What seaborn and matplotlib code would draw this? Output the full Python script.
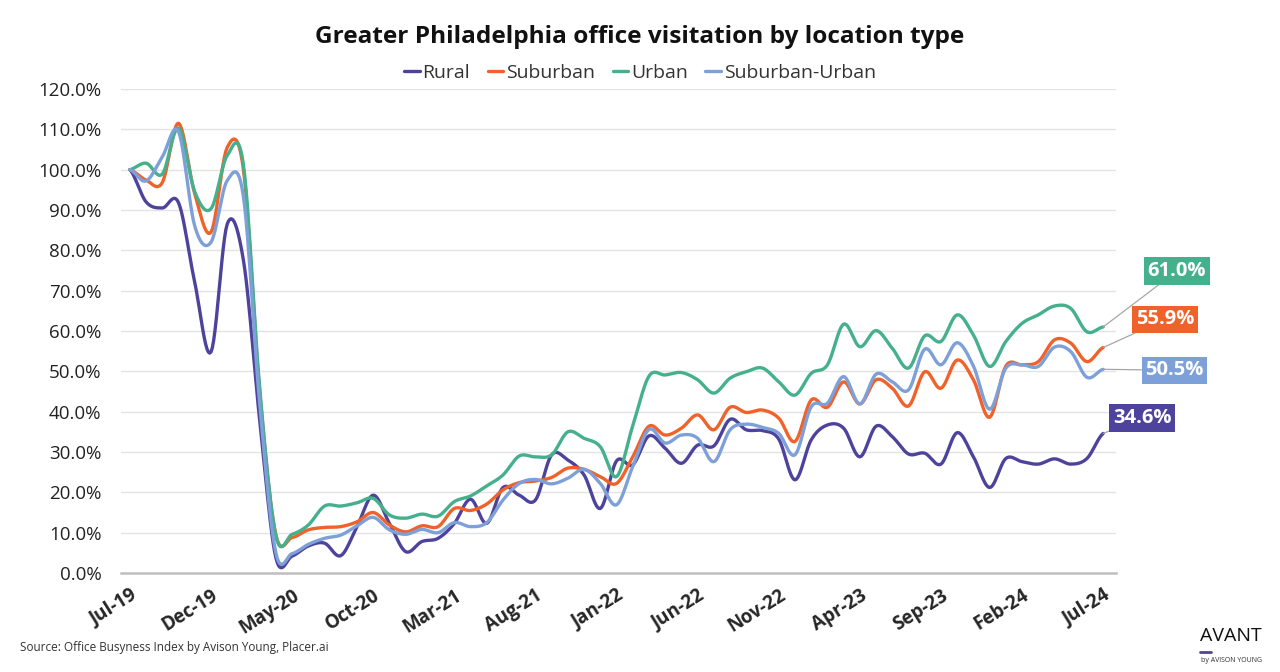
import numpy as np
import pandas as pd
import matplotlib
matplotlib.use("Agg")
import matplotlib.pyplot as plt
from matplotlib.lines import Line2D
import seaborn as sns

sns.set_style("white")
plt.rcParams['font.family'] = ['Open Sans', 'DejaVu Sans']

# monthly index, Jul-19 .. Jul-24 (Jul-19 = 100%)
months = pd.date_range("2019-07-01", periods=61, freq="MS").strftime("%b-%y").tolist()

rural = [100, 92, 90.5, 91.8, 72, 54.8, 86.5, 77.5, 38, 3.8,
         4.2, 6.7, 7.4, 4.3, 11.5, 19.3, 12.3, 5.3, 7.8, 8.6,
         12.3, 18.3, 12.3, 21.2, 19.3, 18.1, 29.3, 28, 24.3, 16,
         27.8, 26.8, 34, 30.9, 27.2, 31.7, 31.5, 38.1, 35.5, 35.3,
         33.2, 23.1, 33, 36.7, 35.9, 28.8, 36.4, 33.8, 29.5, 29.7,
         27, 34.8, 28.8, 21.2, 28.4, 27.6, 27, 28.3, 27, 28.4, 34.6]
suburban = [100, 97.4, 96.8, 111.5, 94, 84.5, 105.5, 100, 45, 9.5,
            8.8, 10.7, 11.3, 11.5, 12.7, 15, 11.9, 10.2, 11.7, 11.5,
            16, 15.5, 17.1, 20.6, 22.4, 22.8, 23.7, 26, 25.7, 23.9,
            22.2, 28.8, 36.4, 34.2, 35.9, 39.2, 35.5, 41.1, 39.8, 40.4,
            38.4, 32.6, 42.9, 41.1, 47.4, 41.9, 47.9, 45.8, 41.4, 49.9,
            45.8, 52.8, 47.9, 38.6, 51.3, 51.6, 52.4, 57.8, 57, 52.4, 55.9]
urban = [100, 101.6, 98.9, 110.3, 94.5, 90.3, 103.5, 101.2, 46, 9.2,
         9.6, 11.9, 16.6, 16.6, 17.4, 18.5, 14.4, 13.6, 14.6, 14.1,
         17.7, 19.1, 21.6, 24.3, 29, 28.8, 29.3, 35, 33.4, 31.3,
         23.9, 36.5, 48.8, 49.1, 49.7, 47.9, 44.6, 48.3, 49.9, 50.8,
         47.4, 44.1, 49.5, 51.6, 61.7, 56.1, 60.1, 55.7, 50.8, 58.8,
         57.4, 64, 59, 51.2, 57.4, 61.9, 64, 66.2, 65.6, 59.8, 61.0]
sub_urban = [100, 97.2, 103.2, 109.4, 86, 82, 97.3, 93.3, 42, 5.0,
             4.8, 7.1, 8.6, 9.4, 11.7, 13.8, 10.7, 9.6, 10.8, 10,
             12.5, 11.5, 12.5, 18.1, 22.2, 23.2, 22.1, 23.5, 25.7, 22.2,
             16.9, 26.4, 35.6, 32.2, 34.2, 33.4, 27.6, 35.5, 36.9, 36.1,
             34.6, 29.3, 41.2, 42.1, 48.7, 41.9, 49.3, 47.4, 45.4, 55.5,
             51.6, 57.1, 51.3, 40.6, 50.8, 51.6, 51.2, 56, 54.9, 48.5, 50.5]

series_names = ["Rural", "Suburban", "Urban", "Suburban-Urban"]
series_values = [rural, suburban, urban, sub_urban]
colors = {"Rural": "#4E439C", "Suburban": "#F0622A",
          "Urban": "#45B08C", "Suburban-Urban": "#7DA0D8"}


def smooth(y, steps=12):
    # Catmull-Rom curve through the monthly points (like Excel's smoothed line)
    y = np.asarray(y, dtype=float) / 100
    p = np.concatenate([[y[0]], y, [y[-1]]])
    xs, ys = [], []
    for i in range(len(y) - 1):
        p0, p1, p2, p3 = p[i], p[i + 1], p[i + 2], p[i + 3]
        t = np.linspace(0, 1, steps, endpoint=False)
        v = 0.5 * (2 * p1 + (-p0 + p2) * t + (2 * p0 - 5 * p1 + 4 * p2 - p3) * t**2
                   + (-p0 + 3 * p1 - 3 * p2 + p3) * t**3)
        xs.extend(i + t)
        ys.extend(v)
    xs.append(len(y) - 1)
    ys.append(y[-1])
    return xs, ys


frames = []
for name, vals in zip(series_names, series_values):
    sx, sy = smooth(vals)
    frames.append(pd.DataFrame({"x": sx, "value": sy, "series": name}))
df = pd.concat(frames, ignore_index=True)

fig = plt.figure(figsize=(12.8, 6.72), dpi=100)
ax = fig.add_axes([0.0945, 0.1473, 0.7775, 0.7203])

sns.lineplot(data=df, x="x", y="value", hue="series", hue_order=series_names,
             palette=colors, linewidth=2.4, estimator=None, sort=False,
             legend=False, ax=ax)

ax.set_xlim(-0.55, 60.8)
ax.set_ylim(0, 1.2)
ax.set_yticks(np.arange(0, 1.21, 0.1))
ax.set_yticklabels([f"{v * 100:.1f}%" for v in np.arange(0, 1.21, 0.1)], fontsize=13.5)
ax.yaxis.grid(True, color="#E3E3E3", linewidth=1)
ax.xaxis.grid(False)
ax.tick_params(axis="y", length=0, pad=14, colors="#222222")

ax.set_xticks(range(0, 61, 5))
ax.set_xticklabels([months[i] for i in range(0, 61, 5)], fontsize=13.5,
                   fontweight="bold", rotation=32, ha="right", rotation_mode="anchor")
ax.tick_params(axis="x", length=0, pad=9)
ax.set_xlabel("")
ax.set_ylabel("")

for side in ["top", "right", "left"]:
    ax.spines[side].set_visible(False)
ax.spines["bottom"].set_color("#BFBFBF")
ax.spines["bottom"].set_linewidth(1.8)

# end-of-line value labels
label_pos = {"Urban": (64.55, 0.749), "Suburban": (63.8, 0.6285),
             "Suburban-Urban": (64.4, 0.5027), "Rural": (62.4, 0.3844)}
for name, vals in zip(series_names, series_values):
    ax.annotate(f"{vals[-1]:.1f}%", xy=(60, vals[-1] / 100), xytext=label_pos[name],
                textcoords="data", ha="center", va="center", color="white",
                fontsize=14.5, fontweight="bold", annotation_clip=False,
                bbox=dict(boxstyle="square,pad=0.18", fc=colors[name], ec="none"),
                arrowprops=dict(arrowstyle="-", color="#A6A6A6", lw=0.9,
                                shrinkA=0, shrinkB=0))

fig.text(0.5, 0.945, "Greater Philadelphia office visitation by location type",
         ha="center", va="center", fontsize=17.6, fontweight="bold", color="#111111")

handles = [Line2D([0], [0], color=colors[n], lw=2.4) for n in series_names]
fig.legend(handles, series_names, loc="center", bbox_to_anchor=(0.5, 0.891), ncol=4,
           frameon=False, fontsize=14, handlelength=0.8, handletextpad=0.15,
           columnspacing=0.9, labelcolor="#333333")

fig.text(0.016, 0.037, "Source: Office Busyness Index by Avison Young, Placer.ai",
         ha="left", va="center", fontsize=8.5, color="#333333")
fig.text(0.962, 0.053, "AVANT", ha="center", va="center", fontsize=14, color="#111111")
fig.text(0.962, 0.017, "by AVISON YOUNG", ha="center", va="center", fontsize=5, color="#333333")
fig.add_artist(Line2D([0.9375, 0.946], [0.03, 0.03], color="#4E439C", lw=2))

fig.savefig("out.png", dpi=100)
